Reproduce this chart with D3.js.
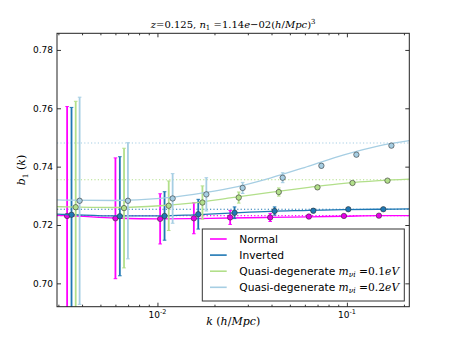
<!DOCTYPE html>
<html><head><meta charset="utf-8">
<script src="https://cdn.jsdelivr.net/npm/d3@7"></script>
<style>body{margin:0;background:#fff}svg{display:block}</style>
</head><body><svg id="c" width="455" height="341"></svg>
<script>
// ---------------- data ----------------
const seriesNames = ["Normal", "Inverted", "Quasi-degenerate", "Quasi-degenerate"];
const seriesMass = [null, null, "0.1", "0.2"];
const seriesColors = ["#ff00ff", "#1f78b4", "#b2df8a", "#a6cee3"];
const kBins = [0.003336, 0.006002, 0.010334, 0.015566, 0.024197, 0.039367, 0.063008, 0.09643, 0.14757];
const kDodge = [1, 1.055, 1.110, 1.164];

const bNormal = [0.7231, 0.7223, 0.7221, 0.7223, 0.7226, 0.7226, 0.7229, 0.7231, 0.7232];
const eNormal = [0.0375, 0.0207, 0.0086, 0.0053, 0.0024, 0.0014, 0.0007, 0.0004, 0.0003];
const bInverted = [0.7235, 0.7230, 0.7231, 0.7237, 0.7242, 0.7248, 0.7249, 0.7254, 0.7254];
const eInverted = [0.0368, 0.0204, 0.0083, 0.0051, 0.0020, 0.0014, 0.0007, 0.0004, 0.0003];
const bQD01 = [0.7261, 0.7258, 0.7266, 0.7277, 0.7294, 0.7313, 0.7329, 0.7344, 0.7352];
const eQD01 = [0.0363, 0.0205, 0.0085, 0.0057, 0.0019, 0.0014, 0.0007, 0.0004, 0.0003];
const bQD02 = [0.7283, 0.7283, 0.7291, 0.7305, 0.7327, 0.7362, 0.7403, 0.7441, 0.7472];
const eQD02 = [0.0355, 0.0199, 0.0085, 0.0057, 0.0019, 0.0017, 0.0008, 0.0005, 0.0003];

const theoryK = [0.00295, 0.003336, 0.006002, 0.010334, 0.015566, 0.024197, 0.039367, 0.063008, 0.09643, 0.14757, 0.2135];
const thNormal = [0.7233, 0.7232, 0.7224, 0.7221, 0.7222, 0.7224, 0.7226, 0.7228, 0.7230, 0.7232, 0.7232];
const thInverted = [0.7237, 0.7236, 0.7231, 0.7231, 0.7235, 0.7241, 0.7247, 0.7250, 0.7253, 0.7254, 0.7255];
const thQD01 = [0.7263, 0.7262, 0.7260, 0.7266, 0.7276, 0.7293, 0.7312, 0.7329, 0.7343, 0.7352, 0.7357];
const thQD02 = [0.7286, 0.7285, 0.7284, 0.7291, 0.7305, 0.7326, 0.7361, 0.7402, 0.7440, 0.7471, 0.7489];

const bLargeScale = [0.7232, 0.7254, 0.7355, 0.7481];
const yTicks = [0.70, 0.72, 0.74, 0.76, 0.78];
const xTicks = [0.01, 0.1];
const xTickExp = ["-2", "-1"];
const xDomain = [0.00295, 0.2135];
const yDomain = [0.692, 0.7857];

const bValues = [bNormal, bInverted, bQD01, bQD02];
const eValues = [eNormal, eInverted, eQD01, eQD02];
const thValues = [thNormal, thInverted, thQD01, thQD02];

// ---------------- layout ----------------
const L = 57, R = 409.3, T = 33.3, B = 306.7;
const svg = d3.select("#c");
const x = d3.scaleLog().domain(xDomain).range([L, R]);
const y = d3.scaleLinear().domain(yDomain).range([B, T]);

svg.append("defs").append("clipPath").attr("id", "clip")
  .append("rect").attr("x", L).attr("y", T).attr("width", R - L).attr("height", B - T);

const plot = svg.append("g").attr("clip-path", "url(#clip)");

// dotted large-scale bias lines
bLargeScale.forEach((v, i) => {
  plot.append("line").attr("x1", L).attr("x2", R).attr("y1", y(v)).attr("y2", y(v))
    .attr("stroke", seriesColors[i]).attr("stroke-width", 1.2).attr("stroke-dasharray", "1.2,2.2");
});

const line = d3.line().x(d => x(d[0])).y(d => y(d[1])).curve(d3.curveMonotoneX);

seriesColors.forEach((c, i) => {
  const g = plot.append("g");
  g.append("path").datum(theoryK.map((k, j) => [k, thValues[i][j]]))
    .attr("d", line).attr("fill", "none").attr("stroke", c).attr("stroke-width", 1.3);
  const pts = kBins.map((k, j) => ({k: k * kDodge[i], b: bValues[i][j], e: eValues[i][j]}));
  g.selectAll(".eb").data(pts).enter().append("line")
    .attr("x1", d => x(d.k)).attr("x2", d => x(d.k))
    .attr("y1", d => y(d.b - d.e)).attr("y2", d => y(d.b + d.e))
    .attr("stroke", c).attr("stroke-width", 1.8);
  [-1, 1].forEach(s => {
    g.selectAll(".cap" + s).data(pts).enter().append("line")
      .attr("x1", d => x(d.k) - 1.8).attr("x2", d => x(d.k) + 1.8)
      .attr("y1", d => y(d.b + s * d.e)).attr("y2", d => y(d.b + s * d.e))
      .attr("stroke", c).attr("stroke-width", 1);
  });
  g.selectAll("circle").data(pts).enter().append("circle")
    .attr("cx", d => x(d.k)).attr("cy", d => y(d.b)).attr("r", 2.7)
    .attr("fill", i === 0 ? "#e600e6" : c).attr("stroke", "#333").attr("stroke-width", 0.6);
});

// ---------------- axes ----------------
const minor = x.ticks().filter(t => !xTicks.some(m => Math.abs(m - t) < 1e-9));
const axCol = "#000";
function styleAxis(g) {
  g.select(".domain").remove();
  g.selectAll("line").attr("stroke", axCol).attr("stroke-width", 0.8);
}
svg.append("g").attr("transform", `translate(0,${B})`)
  .call(d3.axisBottom(x).tickValues(xTicks).tickSize(-4).tickFormat("")).call(styleAxis);
svg.append("g").attr("transform", `translate(0,${B})`)
  .call(d3.axisBottom(x).tickValues(minor).tickSize(-2).tickFormat("")).call(styleAxis);
svg.append("g").attr("transform", `translate(0,${T})`)
  .call(d3.axisTop(x).tickValues(xTicks).tickSize(-4).tickFormat("")).call(styleAxis);
svg.append("g").attr("transform", `translate(0,${T})`)
  .call(d3.axisTop(x).tickValues(minor).tickSize(-2).tickFormat("")).call(styleAxis);
const yl = svg.append("g").attr("transform", `translate(${L},0)`)
  .call(d3.axisLeft(y).tickValues(yTicks).tickSize(-4).tickPadding(4).tickFormat(d3.format(".2f")))
  .call(styleAxis);
yl.selectAll("text").attr("font-family", "DejaVu Sans").attr("font-size", 9).attr("fill", "#000");
svg.append("g").attr("transform", `translate(${R},0)`)
  .call(d3.axisRight(y).tickValues(yTicks).tickSize(-4).tickFormat("")).call(styleAxis);

svg.append("rect").attr("x", L).attr("y", T).attr("width", R - L).attr("height", B - T)
  .attr("fill", "none").attr("stroke", "#222").attr("stroke-width", 1);

// x tick labels 10^n
xTicks.forEach((t, i) => {
  const tx = svg.append("text").attr("x", x(t)).attr("y", 318).attr("text-anchor", "middle")
    .attr("font-family", "DejaVu Sans").attr("font-size", 9);
  tx.append("tspan").text("10");
  tx.append("tspan").attr("dy", -4).attr("font-size", 6.5).text(xTickExp[i]);
});

// title
const serif = "'DejaVu Serif', 'Liberation Serif', serif";
const tt = svg.append("text").attr("x", (L + R) / 2).attr("y", 28).attr("text-anchor", "middle")
  .attr("font-family", serif).attr("font-size", 10);
tt.append("tspan").attr("font-style", "italic").text("z");
tt.append("tspan").text("=0.125, ");
tt.append("tspan").attr("font-style", "italic").text("n");
tt.append("tspan").attr("font-size", 7).attr("dy", 2).text("1");
tt.append("tspan").attr("dy", -2).text(" =1.14");
tt.append("tspan").attr("font-style", "italic").text("e");
tt.append("tspan").text("\u221202(");
tt.append("tspan").attr("font-style", "italic").text("h");
tt.append("tspan").text("/");
tt.append("tspan").attr("font-style", "italic").text("Mpc");
tt.append("tspan").text(")");
tt.append("tspan").attr("font-size", 7).attr("dy", -4).text("3");

// x label
const xlab = svg.append("text").attr("x", (L + R) / 2).attr("y", 325).attr("text-anchor", "middle")
  .attr("font-family", serif).attr("font-size", 11);
xlab.append("tspan").attr("font-style", "italic").text("k");
xlab.append("tspan").text(" (");
xlab.append("tspan").attr("font-style", "italic").text("h");
xlab.append("tspan").text("/");
xlab.append("tspan").attr("font-style", "italic").text("Mpc");
xlab.append("tspan").text(")");

// y label
const ylab = svg.append("text").attr("transform", `translate(25,${(T + B) / 2}) rotate(-90)`)
  .attr("text-anchor", "middle").attr("font-family", serif).attr("font-size", 11);
ylab.append("tspan").attr("font-style", "italic").text("b");
ylab.append("tspan").attr("font-size", 7.5).attr("dy", 2.5).text("1");
ylab.append("tspan").attr("dy", -2.5).text(" (");
ylab.append("tspan").attr("font-style", "italic").text("k");
ylab.append("tspan").text(")");

// legend
const lg = svg.append("g");
lg.append("rect").attr("x", 202.3).attr("y", 229).attr("width", 202).attr("height", 72)
  .attr("fill", "#fff").attr("stroke", "#333").attr("stroke-width", 1);
seriesNames.forEach((n, i) => {
  const yy = 239 + i * 16.1;
  lg.append("line").attr("x1", 210).attr("x2", 226.7).attr("y1", yy).attr("y2", yy)
    .attr("stroke", seriesColors[i]).attr("stroke-width", 1.6);
  const t = lg.append("text").attr("x", 239.3).attr("y", yy + 4)
    .attr("font-family", "DejaVu Sans").attr("font-size", 10.7).text(n);
  if (seriesMass[i]) {
    t.append("tspan").text(" ");
    t.append("tspan").attr("font-family", serif).attr("font-style", "italic").text("m");
    t.append("tspan").attr("font-family", serif).attr("font-style", "italic").attr("font-size", 7.5).attr("dy", 2).text("\u03bdi");
    t.append("tspan").attr("font-family", serif).attr("dy", -2).text(" =" + seriesMass[i]);
    t.append("tspan").attr("font-family", serif).attr("font-style", "italic").text("eV");
  }
});
</script>
</body></html>
